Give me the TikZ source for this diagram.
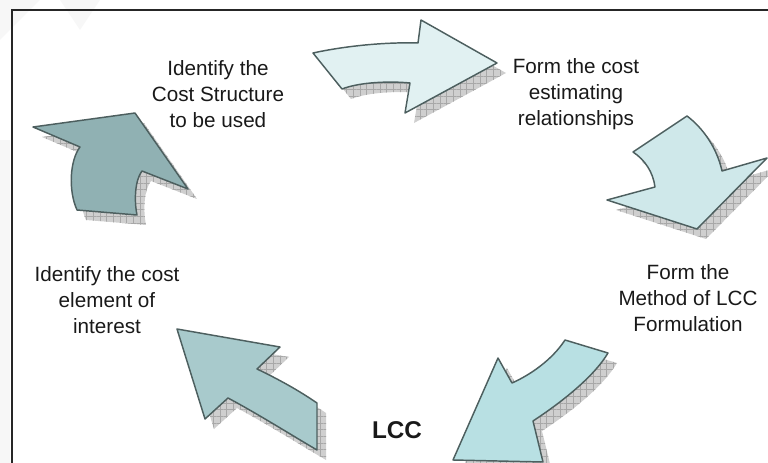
\documentclass[tikz,border=0pt]{standalone}
\usepackage{fontspec}
\setmainfont{Liberation Sans}
\usetikzlibrary{patterns.meta}
\definecolor{fillA}{HTML}{E1F1F2}
\definecolor{fillB}{HTML}{CFE8EA}
\definecolor{fillC}{HTML}{B8E0E3}
\definecolor{fillD}{HTML}{A8CACC}
\definecolor{fillE}{HTML}{90B1B3}
\definecolor{rimgray}{HTML}{4D5F5F}
\tikzset{
    cyclearrow/.style = {draw=rimgray, line width=1.1pt, line join=round},
    dropshadow/.style = {fill=gray!38, shift={(9,10)},
        postaction={pattern={Hatch[angle=0, distance=5pt, line width=0.45pt]}, pattern color=gray!68}},
    steptext/.style = {align=center, inner sep=0pt,
        font=\fontsize{15.5}{19.5}\selectfont, text=black!90},
    frameline/.style = {draw=black!85, line width=1.5pt},
    haze/.style = {fill=gray!6}
}
% the five bent arrows, in pixel units (y grows downwards)
\def\arrowA{(313,53) .. controls (345,46) and (385,42) .. (418,43) -- (421,20) -- (497,63)
    -- (405,113) -- (410,83) .. controls (390,81) and (360,82) .. (342,89) -- cycle}
\def\arrowB{(633,152) -- (687,116) .. controls (703,128) and (717,148) .. (722,171) -- (767,158)
    -- (697,229) -- (607,200) -- (655,187) .. controls (653,172) and (645,160) .. (633,152) -- cycle}
\def\arrowC{(565,340) -- (608,353) .. controls (595,375) and (565,400) .. (533,421) -- (543,462)
    -- (453,460) -- (498,358) -- (512,383) .. controls (530,375) and (552,360) .. (565,340) -- cycle}
\def\arrowD{(177,329) -- (280,347) -- (257,369) .. controls (278,379) and (298,390) .. (317,403)
    -- (317,450) .. controls (288,433) and (258,414) .. (228,398) -- (205,419) -- cycle}
\def\arrowE{(33,127) -- (135,113) -- (188,189) -- (142,171) .. controls (135,180) and (134,200) .. (137,215)
    -- (77,210) .. controls (68,190) and (70,160) .. (80,147) -- cycle}

\begin{document}
\begin{tikzpicture}[x=0.75pt, y=-0.75pt]
    \useasboundingbox (0,0) rectangle (768,463);
    \clip (0,0) rectangle (768,463);
    % faint chevrons behind everything
    \fill[haze] (0,0) -- (40,0) -- (0,40) -- cycle;
    \fill[haze] (60,0) -- (100,0) -- (80,30) -- cycle;
    \fill[haze] (0,140) -- (10,140) -- (10,463) -- (0,463) -- cycle;
    \draw[frameline] (768,10) -- (11.5,10) -- (11.5,463);
    \foreach \shape/\col in {\arrowA/fillA, \arrowB/fillB, \arrowC/fillC, \arrowD/fillD, \arrowE/fillE}{
        \fill[dropshadow] \shape;
        \draw[cyclearrow, fill=\col] \shape;
    }
    \node[steptext] (structure) at (218,94) {Identify the\\Cost Structure\\to be used};
    \node[steptext] (relations) at (576,94) {Form the cost\\estimating\\relationships};
    \node[steptext] (method) at (688,298) {Form the\\Method of LCC\\Formulation};
    \node[steptext] (element) at (107,300) {Identify the cost\\element of\\interest};
    \node[inner sep=0pt, font=\fontsize{18.2}{22}\selectfont\bfseries, text=black!90] (lcc) at (397,430) {LCC};
\end{tikzpicture}
\end{document}
